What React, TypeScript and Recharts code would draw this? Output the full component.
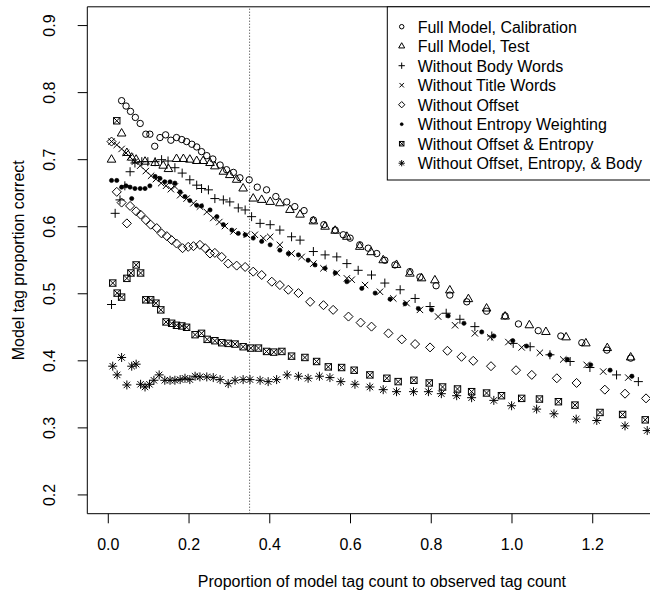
import React from 'react'
import { ScatterChart, Scatter, XAxis, YAxis, ReferenceLine, ReferenceArea } from 'recharts'

const FONT = '"Liberation Sans", Arial, Helvetica, sans-serif'

// axis setup (R style: 4% padding around the data range)
const xDomain: [number, number] = [-0.052, 1.4075]
const yDomain: [number, number] = [0.172, 0.928]
const xTicks = [0, 0.2, 0.4, 0.6, 0.8, 1.0, 1.2]
const yTicks = [0.2, 0.3, 0.4, 0.5, 0.6, 0.7, 0.8, 0.9]
const cutoffX = 0.35

const xTitle = 'Proportion of model tag count to observed tag count'
const yTitle = 'Model tag proportion correct'

const seriesLabels = [
  'Full Model, Calibration',
  'Full Model, Test',
  'Without Body Words',
  'Without Title Words',
  'Without Offset',
  'Without Entropy Weighting',
  'Without Offset & Entropy',
  'Without Offset, Entropy, & Body',
]
const seriesSymbols = ['circle', 'triangle', 'plus', 'cross', 'diamond', 'dot', 'boxcross', 'star']

const fullCalibration: [number, number][] = [
  [0.033, 0.788], [0.044, 0.780], [0.055, 0.772], [0.067, 0.763], [0.079, 0.754], [0.093, 0.738],
  [0.103, 0.738], [0.115, 0.720], [0.128, 0.733], [0.142, 0.737], [0.155, 0.729], [0.169, 0.733],
  [0.182, 0.730], [0.194, 0.727], [0.207, 0.723], [0.219, 0.719], [0.231, 0.712], [0.244, 0.706],
  [0.259, 0.701], [0.277, 0.692], [0.293, 0.685], [0.310, 0.681], [0.326, 0.673], [0.349, 0.670],
  [0.369, 0.659], [0.392, 0.655], [0.415, 0.645], [0.442, 0.637], [0.462, 0.630], [0.485, 0.624],
  [0.508, 0.610], [0.534, 0.603], [0.562, 0.595], [0.582, 0.588], [0.599, 0.583], [0.623, 0.573],
  [0.644, 0.568], [0.665, 0.560], [0.685, 0.550], [0.710, 0.543], [0.747, 0.533], [0.772, 0.525],
  [0.812, 0.512], [0.846, 0.498], [0.888, 0.488], [0.937, 0.474], [0.983, 0.467], [1.016, 0.455],
  [1.065, 0.445], [1.121, 0.437], [1.173, 0.427], [1.235, 0.416], [1.294, 0.404],
]

const fullTest: [number, number][] = [
  [0.008, 0.700], [0.033, 0.739], [0.046, 0.710], [0.058, 0.703], [0.069, 0.700], [0.091, 0.697],
  [0.116, 0.695], [0.136, 0.691], [0.149, 0.686], [0.169, 0.701], [0.186, 0.701], [0.202, 0.700],
  [0.219, 0.698], [0.235, 0.698], [0.252, 0.695], [0.264, 0.690], [0.285, 0.682], [0.301, 0.677],
  [0.318, 0.670], [0.334, 0.657], [0.359, 0.642], [0.380, 0.640], [0.401, 0.637], [0.425, 0.635],
  [0.450, 0.625], [0.475, 0.618], [0.508, 0.608], [0.537, 0.600], [0.562, 0.594], [0.591, 0.585],
  [0.623, 0.570], [0.651, 0.562], [0.681, 0.550], [0.714, 0.543], [0.747, 0.530], [0.776, 0.523],
  [0.809, 0.520], [0.846, 0.505], [0.892, 0.492], [0.937, 0.478], [0.983, 0.466], [1.043, 0.453],
  [1.084, 0.443], [1.134, 0.435], [1.183, 0.426], [1.236, 0.419], [1.294, 0.405],
]

const noBodyWords: [number, number][] = [
  [0.008, 0.484], [0.017, 0.620], [0.029, 0.640], [0.041, 0.661], [0.054, 0.682], [0.066, 0.695],
  [0.083, 0.697], [0.098, 0.697], [0.116, 0.697], [0.132, 0.700], [0.148, 0.698], [0.165, 0.688],
  [0.183, 0.680], [0.202, 0.670], [0.219, 0.662], [0.231, 0.657], [0.248, 0.655], [0.264, 0.642],
  [0.285, 0.640], [0.301, 0.637], [0.322, 0.628], [0.339, 0.625], [0.355, 0.615], [0.376, 0.605],
  [0.401, 0.603], [0.425, 0.595], [0.454, 0.585], [0.475, 0.580], [0.508, 0.563], [0.537, 0.558],
  [0.566, 0.555], [0.591, 0.545], [0.619, 0.535], [0.652, 0.528], [0.685, 0.516], [0.723, 0.506],
  [0.760, 0.493], [0.797, 0.481], [0.837, 0.471], [0.871, 0.462], [0.908, 0.451], [0.950, 0.437],
  [1.003, 0.426], [1.045, 0.421], [1.094, 0.409], [1.144, 0.399], [1.193, 0.390], [1.259, 0.379],
  [1.313, 0.369],
]

const noTitleWords: [number, number][] = [
  [0.008, 0.727], [0.021, 0.722], [0.033, 0.716], [0.044, 0.710], [0.054, 0.704], [0.066, 0.697],
  [0.079, 0.691], [0.093, 0.683], [0.106, 0.676], [0.118, 0.671], [0.131, 0.665], [0.143, 0.661],
  [0.155, 0.656], [0.165, 0.660], [0.178, 0.647], [0.194, 0.642], [0.211, 0.635], [0.227, 0.630],
  [0.244, 0.622], [0.260, 0.613], [0.275, 0.607], [0.289, 0.601], [0.310, 0.593], [0.343, 0.588],
  [0.363, 0.588], [0.384, 0.583], [0.401, 0.585], [0.425, 0.573], [0.454, 0.560], [0.479, 0.555],
  [0.508, 0.545], [0.533, 0.538], [0.566, 0.531], [0.591, 0.523], [0.603, 0.521], [0.636, 0.513],
  [0.673, 0.503], [0.706, 0.493], [0.739, 0.486], [0.772, 0.476], [0.817, 0.466], [0.859, 0.453],
  [0.908, 0.441], [0.946, 0.435], [0.991, 0.428], [1.024, 0.420], [1.069, 0.412], [1.127, 0.402],
  [1.185, 0.394], [1.226, 0.384], [1.288, 0.375],
]

const noOffset: [number, number][] = [
  [0.008, 0.727], [0.021, 0.652], [0.033, 0.636], [0.046, 0.605], [0.054, 0.631], [0.069, 0.623],
  [0.080, 0.618], [0.093, 0.610], [0.105, 0.603], [0.120, 0.598], [0.132, 0.590], [0.145, 0.586],
  [0.157, 0.580], [0.169, 0.575], [0.184, 0.568], [0.198, 0.570], [0.211, 0.571], [0.227, 0.573],
  [0.240, 0.568], [0.252, 0.560], [0.264, 0.561], [0.281, 0.555], [0.297, 0.545], [0.318, 0.542],
  [0.339, 0.540], [0.359, 0.533], [0.380, 0.528], [0.405, 0.518], [0.425, 0.513], [0.446, 0.506],
  [0.471, 0.501], [0.500, 0.488], [0.533, 0.483], [0.557, 0.476], [0.595, 0.466], [0.625, 0.457],
  [0.652, 0.451], [0.694, 0.441], [0.727, 0.432], [0.760, 0.425], [0.797, 0.420], [0.840, 0.415],
  [0.875, 0.406], [0.904, 0.400], [0.948, 0.392], [1.010, 0.386], [1.049, 0.379], [1.111, 0.374],
  [1.160, 0.367], [1.230, 0.357], [1.280, 0.351], [1.332, 0.344],
]

const noEntropy: [number, number][] = [
  [0.008, 0.669], [0.021, 0.669], [0.033, 0.659], [0.044, 0.661], [0.054, 0.659], [0.058, 0.642],
  [0.066, 0.657], [0.079, 0.657], [0.091, 0.657], [0.103, 0.661], [0.116, 0.675], [0.128, 0.672],
  [0.140, 0.667], [0.153, 0.667], [0.165, 0.665], [0.178, 0.652], [0.190, 0.645], [0.202, 0.639],
  [0.219, 0.632], [0.231, 0.631], [0.252, 0.625], [0.269, 0.615], [0.285, 0.603], [0.306, 0.595],
  [0.322, 0.590], [0.339, 0.588], [0.359, 0.583], [0.380, 0.578], [0.401, 0.573], [0.425, 0.565],
  [0.446, 0.560], [0.471, 0.558], [0.495, 0.550], [0.512, 0.543], [0.537, 0.538], [0.562, 0.531],
  [0.591, 0.518], [0.628, 0.508], [0.661, 0.501], [0.698, 0.492], [0.735, 0.485], [0.768, 0.478],
  [0.801, 0.476], [0.842, 0.467], [0.881, 0.456], [0.925, 0.443], [0.955, 0.437], [1.002, 0.430],
  [1.036, 0.422], [1.094, 0.409], [1.137, 0.402], [1.195, 0.394], [1.243, 0.386], [1.297, 0.377],
]

const noOffsetEntropy: [number, number][] = [
  [0.021, 0.758], [0.011, 0.516], [0.022, 0.501], [0.033, 0.495], [0.046, 0.523], [0.056, 0.531],
  [0.069, 0.543], [0.080, 0.531], [0.093, 0.491], [0.105, 0.491], [0.118, 0.486], [0.130, 0.476],
  [0.143, 0.458], [0.157, 0.456], [0.169, 0.453], [0.182, 0.452], [0.194, 0.450], [0.215, 0.439],
  [0.231, 0.441], [0.245, 0.432], [0.264, 0.430], [0.281, 0.427], [0.297, 0.426], [0.314, 0.425],
  [0.334, 0.421], [0.353, 0.419], [0.372, 0.419], [0.392, 0.414], [0.410, 0.413], [0.430, 0.414],
  [0.454, 0.407], [0.487, 0.405], [0.516, 0.399], [0.545, 0.391], [0.578, 0.390], [0.609, 0.386],
  [0.648, 0.379], [0.690, 0.374], [0.718, 0.369], [0.757, 0.371], [0.795, 0.367], [0.828, 0.361],
  [0.865, 0.358], [0.900, 0.354], [0.937, 0.352], [0.974, 0.348], [1.024, 0.344], [1.068, 0.343],
  [1.115, 0.339], [1.156, 0.334], [1.218, 0.323], [1.274, 0.320], [1.330, 0.312],
]

const noOffsetEntropyBody: [number, number][] = [
  [0.011, 0.392], [0.022, 0.379], [0.033, 0.405], [0.046, 0.364], [0.058, 0.392], [0.069, 0.395],
  [0.080, 0.365], [0.091, 0.361], [0.102, 0.365], [0.113, 0.371], [0.126, 0.379], [0.140, 0.371],
  [0.153, 0.371], [0.165, 0.371], [0.178, 0.372], [0.190, 0.374], [0.202, 0.372], [0.215, 0.377],
  [0.227, 0.376], [0.244, 0.376], [0.260, 0.375], [0.277, 0.372], [0.297, 0.366], [0.314, 0.371],
  [0.334, 0.372], [0.351, 0.372], [0.376, 0.371], [0.396, 0.369], [0.417, 0.372], [0.443, 0.379],
  [0.471, 0.377], [0.495, 0.374], [0.523, 0.377], [0.549, 0.375], [0.576, 0.369], [0.611, 0.365],
  [0.648, 0.361], [0.681, 0.357], [0.714, 0.354], [0.756, 0.354], [0.793, 0.354], [0.825, 0.351],
  [0.863, 0.348], [0.900, 0.345], [0.955, 0.341], [0.999, 0.333], [1.061, 0.328], [1.104, 0.321],
  [1.159, 0.313], [1.210, 0.311], [1.280, 0.303], [1.335, 0.296],
]

const seriesData = [
  fullCalibration, fullTest, noBodyWords, noTitleWords,
  noOffset, noEntropy, noOffsetEntropy, noOffsetEntropyBody,
]

// R pch-like glyphs
function Symbol({ kind, cx, cy, s = 1 }: { kind: string; cx: number; cy: number; s?: number }) {
  const st = { stroke: '#000', strokeWidth: 1, fill: 'none' }
  const r = 3.2 * s
  const q = 4.5 * s
  switch (kind) {
    case 'circle':
      return <circle cx={cx} cy={cy} r={r} {...st} />
    case 'triangle': {
      const a = 4.98 * s, b = 2.49 * s, w = 4.31 * s
      return <polygon points={`${cx},${cy - a} ${cx - w},${cy + b} ${cx + w},${cy + b}`} {...st} />
    }
    case 'plus':
      return <path d={`M${cx - q},${cy}H${cx + q}M${cx},${cy - q}V${cy + q}`} {...st} />
    case 'cross':
      return <path d={`M${cx - r},${cy - r}L${cx + r},${cy + r}M${cx - r},${cy + r}L${cx + r},${cy - r}`} {...st} />
    case 'diamond':
      return <polygon points={`${cx},${cy - q} ${cx + q},${cy} ${cx},${cy + q} ${cx - q},${cy}`} {...st} />
    case 'dot':
      return <circle cx={cx} cy={cy} r={2.13 * s} fill="#000" stroke="#000" strokeWidth={0.6} />
    case 'boxcross':
      return (
        <g>
          <rect x={cx - r} y={cy - r} width={2 * r} height={2 * r} {...st} />
          <path d={`M${cx - r},${cy - r}L${cx + r},${cy + r}M${cx - r},${cy + r}L${cx + r},${cy - r}`} {...st} />
        </g>
      )
    case 'star':
      return (
        <path
          d={`M${cx - r},${cy - r}L${cx + r},${cy + r}M${cx - r},${cy + r}L${cx + r},${cy - r}` +
            `M${cx - q},${cy}H${cx + q}M${cx},${cy - q}V${cy + q}`}
          {...st}
        />
      )
    default:
      return null
  }
}

function XTick({ x, y, payload }: any) {
  return (
    <g>
      <line x1={x} y1={y} x2={x} y2={y + 9.6} stroke="#000" />
      <text x={x} y={y + 36} textAnchor="middle" fontSize={16} fontFamily={FONT} fill="#000">
        {Number(payload.value).toFixed(1)}
      </text>
    </g>
  )
}

function YTick({ x, y, payload }: any) {
  return (
    <g>
      <line x1={x - 9.6} y1={y} x2={x} y2={y} stroke="#000" />
      <text
        transform={`translate(${x - 32},${y}) rotate(-90)`}
        textAnchor="middle"
        fontSize={16}
        fontFamily={FONT}
        fill="#000"
      >
        {Number(payload.value).toFixed(1)}
      </text>
    </g>
  )
}

function LegendOverlay() {
  const top = 6.8
  const left = 387.3
  const rowY = (i: number) => 26.7 + i * 19.5
  return (
    <svg width={650} height={594} style={{ position: 'absolute', left: 0, top: 0, pointerEvents: 'none' }}>
      <rect x={left} y={top} width={320} height={173.2} fill="#fff" stroke="#000" strokeWidth={1} />
      {seriesLabels.map((label, i) => (
        <g key={label}>
          <Symbol kind={seriesSymbols[i]} cx={401.7} cy={rowY(i)} s={0.7} />
          <text x={417.7} y={rowY(i) + 5.8} fontSize={16} fontFamily={FONT} fill="#000">
            {label}
          </text>
        </g>
      ))}
      <text x={381.9} y={587} textAnchor="middle" fontSize={16} fontFamily={FONT} fill="#000">
        {xTitle}
      </text>
      <text
        transform={`translate(24,260.3) rotate(-90)`}
        textAnchor="middle"
        fontSize={16}
        fontFamily={FONT}
        fill="#000"
      >
        {yTitle}
      </text>
    </svg>
  )
}

export default function App() {
  return (
    <div style={{ position: 'absolute', left: 0, top: 0, width: 650, height: 594, overflow: 'hidden', background: '#fff' }}>
      <ScatterChart width={680} height={594} margin={{ top: 6.8, right: 3.5, bottom: 0, left: 0 }}>
        <XAxis
          type="number"
          dataKey="x"
          domain={xDomain}
          allowDataOverflow
          ticks={xTicks}
          interval={0}
          height={80.3}
          axisLine={false}
          tickLine={false}
          tickSize={0}
          tickMargin={0}
          tick={<XTick />}
        />
        <YAxis
          type="number"
          dataKey="y"
          domain={yDomain}
          allowDataOverflow
          ticks={yTicks}
          interval={0}
          width={87.3}
          axisLine={false}
          tickLine={false}
          tickSize={0}
          tickMargin={0}
          tick={<YTick />}
        />
        <ReferenceArea
          x1={xDomain[0]}
          x2={xDomain[1]}
          y1={yDomain[0]}
          y2={yDomain[1]}
          fill="none"
          stroke="#000"
          strokeWidth={1}
          ifOverflow="visible"
        />
        <ReferenceLine x={cutoffX} stroke="#333" strokeDasharray="1 2" strokeWidth={1} />
        {seriesData.map((pts, i) => (
          <Scatter
            key={seriesLabels[i]}
            name={seriesLabels[i]}
            data={pts.map(([x, y]) => ({ x, y }))}
            isAnimationActive={false}
            shape={(p: any) => <Symbol kind={seriesSymbols[i]} cx={p.cx} cy={p.cy} />}
          />
        ))}
      </ScatterChart>
      <LegendOverlay />
    </div>
  )
}
